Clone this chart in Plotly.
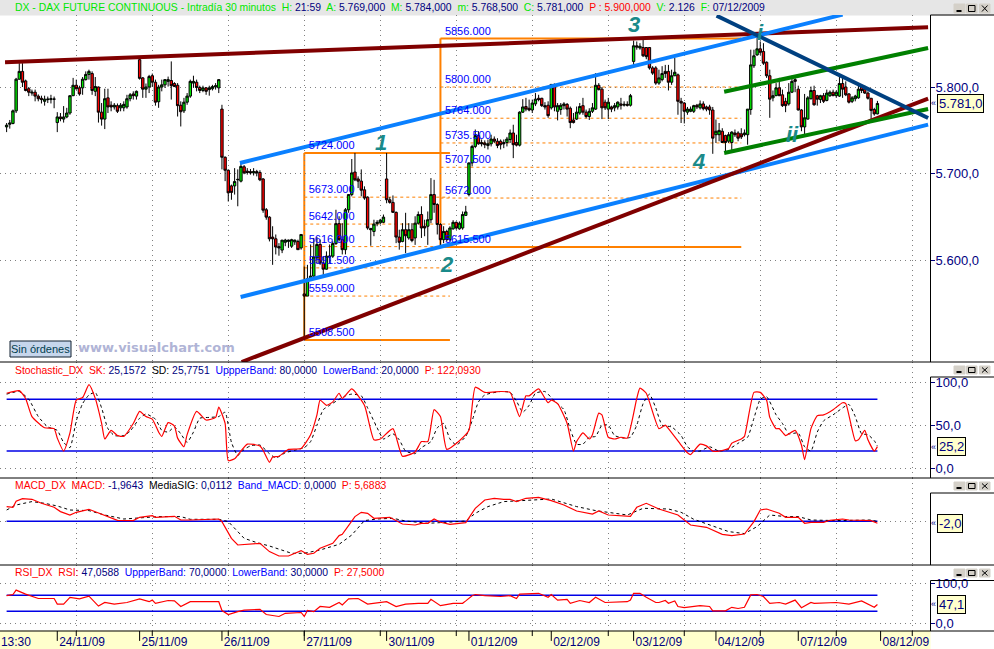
import plotly.graph_objects as go
from plotly.subplots import make_subplots

# bar numbers run along the x axis, one bar = 30 minutes
bars = list(range(2, 278))

opens = [
    5754, 5757, 5758, 5772.5, 5809, 5818, 5807, 5798, 5793, 5794,
    5789.5, 5787, 5783.5, 5785.5, 5785.5, 5786, 5759, 5765.5, 5763, 5765.5,
    5770, 5790, 5802, 5799, 5799, 5808.5, 5814.5, 5815.5, 5795, 5800,
    5771, 5763, 5787.5, 5779, 5777, 5778.5, 5776, 5776, 5777, 5786.5,
    5792, 5789.5, 5831.5, 5810.5, 5797.5, 5800, 5813, 5805.5, 5783, 5800,
    5802.5, 5806.5, 5807.5, 5804, 5802, 5779, 5772.5, 5782.5, 5789.5, 5804.5,
    5805.5, 5799.5, 5796, 5799, 5797, 5798, 5800, 5799, 5774.5, 5719,
    5704, 5686, 5686, 5693, 5691.5, 5708, 5703, 5702.5, 5701, 5702.5,
    5701.5, 5694, 5658.5, 5650, 5627, 5625, 5616, 5612, 5621, 5622,
    5616.5, 5621.5, 5622, 5614.5, 5561.5, 5559, 5579, 5582, 5603, 5618.5,
    5597, 5590, 5604, 5605, 5619.5, 5642.5, 5624, 5612.5, 5658.5, 5676,
    5702, 5694, 5691.5, 5681.5, 5673, 5637, 5633.5, 5642.5, 5643.5, 5644,
    5694, 5670, 5667, 5655.5, 5627, 5622, 5635.5, 5626, 5635.5, 5626,
    5643, 5653, 5639.5, 5639.5, 5647, 5676, 5664.5, 5641.5, 5624, 5633.5,
    5624, 5636.5, 5644, 5636.5, 5637.5, 5652, 5676, 5712.5, 5731.5, 5744,
    5736, 5735.5, 5732.5, 5734.5, 5740, 5737.5, 5737.5, 5736, 5736, 5739.5,
    5747, 5736, 5733, 5771, 5777.5, 5775.5, 5773.5, 5780.5, 5787, 5787,
    5778.5, 5779, 5776, 5803, 5772, 5774, 5778.5, 5780, 5775.5, 5762,
    5763, 5770, 5778.5, 5771, 5766, 5772, 5774.5, 5802, 5797.5, 5782.5,
    5774.5, 5777, 5776, 5777, 5780.5, 5779, 5780, 5779, 5829.5, 5847.5,
    5845, 5845.5, 5845.5, 5845.5, 5822, 5822, 5804.5, 5808.5, 5818, 5818,
    5805.5, 5813, 5814, 5783.5, 5781.5, 5771, 5772, 5772, 5779, 5776,
    5780.5, 5777, 5777, 5773.5, 5745, 5745, 5749, 5744, 5737.5, 5736,
    5747, 5747, 5746, 5745, 5745, 5774, 5824.5, 5837, 5844, 5841,
    5828.5, 5813, 5787.5, 5790, 5799, 5791, 5783.5, 5780.5, 5794, 5808.5,
    5797.5, 5773.5, 5754, 5763, 5786.5, 5796, 5790, 5785.5, 5790, 5784.5,
    5790, 5794, 5790, 5789.5, 5804, 5800, 5792, 5783.5, 5786.5, 5787.5,
    5800, 5797.5, 5793, 5787, 5774, 5769,
]
highs = [
    5758.5, 5762, 5774, 5810.5, 5827.5, 5827.5, 5808.5, 5800, 5797, 5797,
    5791.5, 5790, 5790, 5789, 5791, 5789, 5771, 5770, 5778, 5776,
    5790, 5810.5, 5808.5, 5801.5, 5811.5, 5818, 5820, 5818, 5811.5, 5800.5,
    5781.5, 5798, 5798, 5783.5, 5781.5, 5781, 5781.5, 5783.5, 5791, 5793,
    5795, 5796, 5835.5, 5811.5, 5804, 5814, 5815.5, 5808.5, 5802.5, 5808.5,
    5809, 5812, 5829.5, 5805.5, 5804.5, 5783.5, 5787.5, 5793, 5808.5, 5813,
    5808.5, 5801.5, 5801.5, 5800, 5801.5, 5802.5, 5804.5, 5809, 5779.5, 5720,
    5705, 5687.5, 5706.5, 5705, 5712.5, 5710, 5706.5, 5705.5, 5706.5, 5704.5,
    5704, 5695, 5660.5, 5651, 5639.5, 5630, 5620, 5623.5, 5625, 5624,
    5625, 5624, 5624, 5630, 5593, 5595, 5618.5, 5626, 5627, 5624,
    5605, 5610.5, 5618.5, 5622, 5658.5, 5651, 5643, 5660.5, 5676, 5717,
    5724, 5697, 5705, 5685.5, 5674, 5637.5, 5647, 5646.5, 5648, 5653,
    5724, 5673, 5675, 5656.5, 5635.5, 5643, 5655, 5643, 5643, 5651,
    5656.5, 5662.5, 5647, 5656.5, 5695, 5693, 5666, 5643, 5639.5, 5635.5,
    5639.5, 5646.5, 5645, 5645, 5656.5, 5663, 5713, 5733.5, 5751, 5749,
    5739.5, 5738.5, 5739.5, 5745, 5743, 5741, 5739.5, 5739.5, 5742.5, 5751,
    5756.5, 5745, 5772, 5786, 5787.5, 5785.5, 5785.5, 5793, 5791, 5787.5,
    5782.5, 5783.5, 5803, 5804, 5781.5, 5781.5, 5782.5, 5781.5, 5777.5, 5770,
    5777.5, 5781.5, 5787.5, 5774, 5775.5, 5781.5, 5816, 5804.5, 5800, 5785.5,
    5787.5, 5778.5, 5781.5, 5783.5, 5787.5, 5783.5, 5783.5, 5792, 5853.5, 5852.5,
    5850.5, 5856.5, 5845.5, 5846, 5824, 5824, 5820, 5824, 5825.5, 5825.5,
    5820, 5833.5, 5815.5, 5787.5, 5782.5, 5777, 5777.5, 5779.5, 5780.5, 5784.5,
    5783.5, 5778.5, 5779.5, 5777, 5762.5, 5758.5, 5752.5, 5745, 5748, 5749,
    5751, 5749, 5752.5, 5751, 5774.5, 5843, 5843, 5862, 5852.5, 5850.5,
    5829.5, 5820, 5796, 5804.5, 5810.5, 5797, 5787.5, 5804.5, 5813, 5811.5,
    5801.5, 5774.5, 5792, 5789.5, 5800.5, 5801.5, 5791, 5791, 5793, 5797,
    5796, 5797, 5796, 5815.5, 5810.5, 5806.5, 5793, 5789.5, 5791, 5804.5,
    5802.5, 5801.5, 5795, 5787, 5776, 5784,
]
lows = [
    5748, 5752, 5757, 5770, 5808.5, 5800, 5795, 5789.5, 5790, 5783.5,
    5783.5, 5781, 5778.5, 5781.5, 5781, 5775.5, 5748, 5760.5, 5759, 5764,
    5768, 5789.5, 5797, 5790, 5791, 5807.5, 5808.5, 5791, 5789.5, 5759,
    5755.5, 5751.5, 5770, 5772, 5774, 5770, 5772, 5772, 5775, 5783.5,
    5785.5, 5785.5, 5808.5, 5787.5, 5787.5, 5793, 5800, 5778.5, 5776, 5795,
    5799, 5800.5, 5785.5, 5800, 5766, 5754.5, 5770, 5779.5, 5787.5, 5799,
    5795, 5793, 5794, 5791, 5790, 5796, 5797, 5793, 5705, 5691.5,
    5668, 5670, 5676, 5662.5, 5690, 5699.5, 5699, 5699, 5698, 5697,
    5691.5, 5655, 5647, 5622, 5595, 5607, 5605.5, 5608.5, 5616.5, 5614.5,
    5614.5, 5618, 5612.5, 5612.5, 5510.5, 5559, 5578, 5581, 5597, 5595,
    5582, 5589.5, 5597, 5603, 5618, 5622, 5607, 5607, 5655, 5674,
    5691.5, 5683.5, 5674, 5670, 5635.5, 5617, 5628, 5639.5, 5641.5, 5643,
    5666, 5665.5, 5655, 5620, 5612.5, 5621, 5608.5, 5624, 5621, 5618,
    5641.5, 5626, 5628, 5618, 5643, 5655, 5630, 5614.5, 5620, 5622,
    5622, 5635.5, 5635.5, 5635.5, 5635.5, 5651.5, 5674, 5708.5, 5729.5, 5733.5,
    5731.5, 5729.5, 5728, 5731.5, 5735.5, 5729.5, 5728, 5729.5, 5731.5, 5735.5,
    5718, 5731.5, 5731.5, 5770, 5772, 5772, 5770, 5778, 5783.5, 5777,
    5774, 5764.5, 5774, 5772, 5761.5, 5768, 5774, 5766, 5752.5, 5758,
    5762, 5768, 5768, 5764, 5762, 5770, 5773.5, 5796, 5763, 5773.5,
    5763, 5771, 5772, 5774, 5774, 5777.5, 5777.5, 5777.5, 5824.5, 5843,
    5843, 5834.5, 5832, 5820, 5814, 5802.5, 5802.5, 5806.5, 5810.5, 5796,
    5802.5, 5812.5, 5768, 5758.5, 5758, 5768, 5771, 5770, 5774.5, 5774,
    5773, 5772, 5768, 5723, 5735.5, 5737.5, 5735.5, 5724.5, 5735.5, 5726,
    5742.5, 5737.5, 5740, 5743, 5733.5, 5768, 5822, 5836, 5837, 5825.5,
    5810.5, 5764.5, 5783.5, 5789.5, 5789.5, 5777, 5771, 5778.5, 5793, 5794,
    5773, 5749, 5745, 5762.5, 5785.5, 5778.5, 5778.5, 5781.5, 5781.5, 5783.5,
    5788.5, 5789.5, 5787.5, 5788.5, 5787.5, 5789.5, 5781, 5781.5, 5783.5, 5786.5,
    5793, 5792, 5785.5, 5761.5, 5767, 5768.5,
]
closes = [
    5756, 5758.5, 5772.5, 5809, 5818, 5805.5, 5796, 5794, 5794, 5789.5,
    5786.5, 5785.5, 5786, 5786, 5786.5, 5786, 5765.5, 5763.5, 5765.5, 5770,
    5790, 5802, 5798, 5792, 5809, 5814.5, 5818, 5796, 5800.5, 5771,
    5763, 5786.5, 5777, 5777, 5779, 5772, 5779, 5780, 5786.5, 5791,
    5790, 5795, 5810, 5797.5, 5800, 5812, 5805.5, 5782.5, 5800, 5802.5,
    5808.5, 5808.5, 5801.5, 5800.5, 5778.5, 5771.5, 5782.5, 5789.5, 5806.5, 5806.5,
    5799.5, 5796, 5799, 5795, 5799, 5800.5, 5801.5, 5808.5, 5719, 5704,
    5678, 5678.5, 5691, 5693.5, 5708.5, 5701, 5701.5, 5701, 5702.5, 5701,
    5693, 5658, 5650, 5625, 5625, 5615.5, 5614.5, 5623.5, 5623.5, 5623.5,
    5624, 5623.5, 5612.5, 5630, 5559, 5579, 5582, 5604, 5618.5, 5597,
    5590, 5605, 5605, 5619.5, 5642.5, 5624, 5612.5, 5658.5, 5676, 5701,
    5693, 5691.5, 5681, 5672, 5637.5, 5635.5, 5642, 5644, 5646.5, 5650,
    5670, 5667, 5655.5, 5627, 5621, 5635.5, 5628.5, 5635.5, 5623, 5643,
    5653, 5637.5, 5637.5, 5647, 5676, 5664.5, 5641.5, 5624, 5633.5, 5624,
    5637.5, 5644, 5637.5, 5643, 5653, 5656, 5712.5, 5731.5, 5744, 5734.5,
    5734.5, 5733.5, 5734.5, 5740, 5737.5, 5732.5, 5733.5, 5734.5, 5740, 5747,
    5733.5, 5733, 5771, 5777, 5774.5, 5773.5, 5781.5, 5786, 5785.5, 5778.5,
    5777, 5767, 5803, 5777, 5778.5, 5779, 5780.5, 5774.5, 5759, 5759,
    5771, 5777.5, 5771, 5766, 5772, 5776, 5802, 5797, 5776, 5776,
    5782.5, 5774.5, 5778.5, 5782.5, 5779, 5780, 5779, 5790, 5847.5, 5846,
    5847, 5836, 5835, 5822, 5816, 5804.5, 5810.5, 5815.5, 5815.5, 5805.5,
    5813, 5817, 5783.5, 5781.5, 5772, 5774.5, 5774.5, 5778.5, 5777, 5780.5,
    5775, 5774.5, 5773.5, 5741, 5749, 5750, 5736, 5736, 5745, 5748,
    5745, 5741, 5742.5, 5747, 5774.5, 5825.5, 5836, 5844, 5840, 5827.5,
    5813, 5786, 5790, 5799, 5790, 5778.5, 5778.5, 5794, 5806.5, 5806.5,
    5773.5, 5754, 5764.5, 5787.5, 5796, 5779.5, 5786, 5790, 5783.5, 5793,
    5794, 5790, 5794, 5804, 5797.5, 5791, 5782.5, 5787.5, 5789.5, 5797.5,
    5796, 5793, 5787, 5773, 5769, 5781,
]

sk_bars = [
    2, 6, 8, 10, 14, 17, 18, 20, 22, 24, 26, 28, 30, 32, 33, 35, 37, 39, 42, 44,
    46, 48, 50, 51, 53, 55, 56, 58, 59, 62, 65, 68, 69, 71, 72, 74, 78, 82, 83, 85,
    86, 88, 91, 95, 98, 100, 101, 103, 105, 107, 108, 111, 115, 118, 120, 124, 127, 131, 133, 135,
    137, 139, 141, 145, 148, 150, 153, 158, 161, 164, 166, 167, 170, 173, 174, 176, 179, 181, 182, 184,
    186, 187, 189, 190, 192, 194, 196, 198, 201, 202, 204, 208, 210, 211, 215, 217, 218, 221, 223, 225,
    227, 230, 231, 234, 235, 238, 240, 242, 243, 245, 246, 248, 251, 253, 254, 256, 258, 260, 263, 266,
    267, 270, 271, 273, 274, 276, 277,
]
sk_values = [
    87, 90, 81, 60, 47, 46, 35, 20, 41, 79, 82, 97, 81, 52, 34, 44, 38, 37, 52, 66,
    60, 57, 42, 37, 53, 49, 35, 25, 39, 66, 56, 59, 71, 52, 9, 11, 28, 26, 21, 7,
    13, 14, 22, 23, 39, 62, 79, 73, 77, 87, 81, 92, 73, 33, 34, 46, 14, 19, 31, 31,
    68, 60, 22, 32, 44, 94, 88, 89, 88, 60, 84, 84, 92, 76, 79, 75, 52, 20, 31, 41,
    34, 39, 64, 62, 36, 34, 36, 35, 81, 93, 87, 46, 50, 46, 27, 18, 16, 28, 26, 20,
    20, 23, 29, 34, 37, 88, 88, 79, 59, 46, 46, 38, 44, 27, 10, 46, 61, 62, 68, 76,
    75, 32, 33, 44, 33, 20, 25.2,
]
sd_bars = [
    2, 6, 9, 12, 15, 18, 20, 22, 24, 26, 28, 30, 32, 34, 36, 39, 41, 44, 46, 49,
    51, 53, 55, 57, 59, 61, 63, 66, 69, 71, 73, 75, 77, 79, 82, 85, 87, 90, 93, 96,
    98, 100, 102, 104, 107, 109, 111, 114, 116, 119, 121, 124, 126, 128, 131, 133, 136, 138, 140, 142,
    144, 147, 149, 151, 153, 158, 161, 163, 165, 167, 169, 172, 175, 178, 180, 182, 184, 186, 188, 190,
    192, 194, 197, 199, 201, 203, 205, 207, 209, 212, 215, 217, 219, 221, 224, 227, 230, 233, 236, 238,
    240, 242, 245, 247, 249, 252, 254, 256, 258, 260, 263, 266, 268, 270, 272, 274, 276, 277,
]
sd_values = [
    86, 89, 80, 60, 48, 44, 30, 24, 55, 75, 85, 88, 70, 46, 38, 38, 43, 58, 63, 57,
    44, 42, 48, 40, 30, 42, 58, 59, 60, 65, 30, 15, 22, 26, 27, 17, 12, 18, 21, 24,
    31, 50, 68, 73, 80, 84, 86, 84, 70, 47, 34, 40, 33, 20, 17, 24, 31, 47, 52, 34,
    27, 37, 55, 77, 85, 89, 88, 78, 65, 73, 87, 89, 78, 68, 45, 28, 28, 36, 37, 50,
    50, 38, 35, 36, 50, 75, 86, 70, 50, 48, 38, 25, 20, 20, 25, 20, 22, 29, 36, 58,
    80, 83, 62, 52, 40, 41, 25, 20, 42, 55, 62, 70, 74, 60, 40, 39, 32, 25.8,
]

macd_bars = [
    2, 4, 5, 7, 10, 13, 17, 19, 22, 24, 28, 32, 34, 37, 42, 44, 48, 49, 55, 57,
    60, 69, 70, 73, 75, 82, 85, 88, 91, 93, 95, 97, 99, 101, 105, 107, 108, 112, 114, 116,
    118, 123, 127, 131, 133, 135, 137, 139, 142, 147, 150, 153, 156, 159, 161, 163, 166, 170, 174, 178,
    182, 187, 189, 192, 199, 201, 204, 208, 214, 218, 223, 228, 231, 235, 238, 240, 242, 246, 248, 252,
    254, 256, 260, 262, 266, 268, 275, 277,
]
macd_values = [
    14.7, 14, 20, 22.7, 22, 18, 14, 9.7, 6.3, 9, 12, 7, 4, 1, 0.7, 4, 5.7, 4, 5, 1.3,
    1.3, 2.3, -0.3, -17, -23.7, -22, -30.3, -34.7, -34.7, -32, -29.3, -33, -32, -27, -22, -14.3, -13, 4.7, 9, 8,
    3, 4, -2.7, -3.7, -2, -2, 2.3, -1, -3, -1.3, 13, 21.3, 23, 22, 22, 19.7, 23, 24, 20.7, 16.3,
    10.3, 7.3, 10.3, 6.3, 5, 14, 18, 12.3, 6.3, -3.7, -6, -13, -14.3, -12.7, -0.3, 11.3, 12.3, 8, 4, 4,
    -2, -1, -1, 1, 2.3, 1.3, 0.7, -2,
]
signal_bars = [
    2, 5, 10, 14, 18, 22, 28, 33, 39, 45, 50, 57, 60, 69, 72, 75, 77, 81, 85, 92,
    96, 101, 107, 111, 115, 119, 124, 128, 135, 141, 147, 150, 154, 159, 167, 174, 182, 188, 198, 203,
    211, 215, 219, 223, 230, 235, 239, 243, 248, 252, 256, 264, 275, 277,
]
signal_values = [
    11.3, 16.3, 19.7, 18, 15.3, 11.3, 10.7, 6.3, 2.3, 4, 4.7, 4.7, 2, 2, -0.3, -10.3, -17, -21.3, -24.7, -32,
    -32, -28.7, -23, -13.7, 0.7, 2.3, 3, 0.3, -2, -1, 0.3, 8, 14.7, 19.7, 21.3, 22.3, 14.7, 10.7, 6.3, 13,
    12.3, 9, 2, -2.7, -10.3, -12.3, -5.3, 6.3, 4.7, 4.7, 1.3, 0.7, 1.3, -0.3,
]

rsi_bars = [
    2, 4, 5, 8, 12, 17, 18, 20, 22, 25, 28, 31, 33, 36, 40, 44, 47, 48, 49, 53,
    55, 57, 60, 69, 70, 72, 75, 77, 82, 84, 88, 90, 95, 96, 97, 99, 101, 104, 107, 108,
    110, 113, 116, 122, 125, 128, 132, 135, 136, 139, 143, 146, 147, 149, 150, 153, 158, 161, 163, 164,
    170, 173, 174, 176, 179, 180, 183, 186, 188, 191, 198, 199, 200, 202, 204, 207, 208, 210, 211, 213,
    214, 216, 221, 224, 225, 228, 229, 231, 233, 235, 237, 239, 241, 243, 246, 248, 251, 253, 256, 257,
    264, 268, 272, 276, 277,
]
rsi_values = [
    69, 72, 83, 73, 62, 62, 48, 48, 65, 61, 68, 43, 52, 48, 52, 61, 54, 58, 50, 57,
    56, 42, 54, 54, 32, 22, 29, 33, 35, 22, 17, 25, 27, 17, 32, 29, 42, 40, 52, 46,
    61, 62, 48, 54, 42, 48, 50, 50, 60, 44, 50, 50, 56, 69, 72, 69, 67, 69, 62, 73,
    75, 65, 72, 58, 60, 50, 57, 52, 65, 52, 54, 58, 75, 75, 65, 52, 52, 57, 50, 56,
    42, 39, 44, 42, 31, 32, 31, 40, 37, 40, 71, 72, 67, 50, 52, 48, 58, 39, 52, 50,
    52, 48, 56, 40, 47.1,
]

stoch_bands = [80, 20]
macd_band = [0]
rsi_bands = [70, 30]
band_bars = [2, 277]

# fibonacci boxes: first/last bar and levels
fib1_bars = [96, 142]
fib1_levels = [5724, 5673, 5642, 5616, 5591.5, 5559, 5508.5]
fib1_labels = ["5724.000", "5673.000", "5642.000", "5616.000", "5591.500", "5559.000", "5508.500"]
fib2_bars = [139, 234]
fib2_levels = [5856, 5800, 5764, 5735.5, 5707.5, 5672, 5615.5]
fib2_labels = ["5856.000", "5800.000", "5764.000", "5735.500", "5707.500", "5672.000", "5615.500"]

# trend lines: start bar, start price, end bar, end price
top_resistance = [1.5, 5828.5, 293, 5868.8]
upper_channel = [75.7, 5712.4, 266, 5883.4]
lower_channel = [75.9, 5558, 293, 5756.6]
lower_support = [76.2, 5483, 293, 5786.5]
green_upper = [228.6, 5794.6, 293, 5845]
green_lower = [228.6, 5724, 293, 5774.6]
navy_down = [226.2, 5882.2, 293, 5764.3]

wave_labels = ["1", "2", "3", "4", "i", "ii"]
wave_bars = [120.2, 141, 200.1, 220.6, 240.2, 250.3]
wave_prices = [5736.6, 5595, 5871.5, 5714.7, 5863.4, 5745.8]

day_ticks = [18, 44, 70, 96, 122, 148, 174, 200, 226, 252, 278]
day_labels = ["24/11/09", "25/11/09", "26/11/09", "27/11/09", "30/11/09", "01/12/09",
              "02/12/09", "03/12/09", "04/12/09", "07/12/09", "08/12/09"]
grid_ticks = [24, 48, 72, 96, 120, 144, 168, 192, 216, 240, 264, 288]

NAVY = "#000080"
BLUE = "#0000e6"
RED = "#ff0000"
LIME = "#00e600"
ORANGE = "#ff8000"
FONT = "Liberation Sans"

fig = make_subplots(rows=5, cols=1, shared_xaxes=True, vertical_spacing=0,
                    row_heights=[347, 116, 87, 66, 18])


def px_x(px):
    return px / 930


def px_y(py):
    return (649 - py) / 634


def chrome_line(x0, y0, x1, y1, color="black", width=1):
    fig.add_shape(type="line", xref="paper", yref="paper", x0=px_x(x0), x1=px_x(x1),
                  y0=px_y(y0), y1=px_y(y1), line=dict(color=color, width=width))


def chrome_rect(x0, y0, x1, y1, fill, border=None, layer="above"):
    fig.add_shape(type="rect", xref="paper", yref="paper", x0=px_x(x0), x1=px_x(x1),
                  y0=px_y(y0), y1=px_y(y1), fillcolor=fill, layer=layer,
                  line=dict(color=border or fill, width=1))


def header_text(html, py, x=13, size=10.4):
    fig.add_annotation(xref="paper", yref="paper", x=px_x(x), y=px_y(py), text=html,
                       showarrow=False, xanchor="left", yanchor="middle",
                       font=dict(family=FONT, size=size, color=NAVY))


def colored(color, text):
    return f'<span style="color:{color}">{text}</span>'


def trend(values, color, width=4):
    fig.add_trace(go.Scatter(x=[values[0], values[2]], y=[values[1], values[3]], mode="lines",
                             line=dict(color=color, width=width)), row=1, col=1)


# fibonacci boxes sit under the candles
for fib_bars, levels in [(fib1_bars, fib1_levels), (fib2_bars, fib2_levels)]:
    fig.add_shape(type="line", x0=fib_bars[0], x1=fib_bars[0], y0=levels[0], y1=levels[-1],
                  xref="x", yref="y", layer="below", line=dict(color=ORANGE, width=2))
    for n, level in enumerate(levels):
        solid = n in (0, len(levels) - 1)
        fig.add_shape(type="line", x0=fib_bars[0], x1=fib_bars[1], y0=level, y1=level,
                      xref="x", yref="y", layer="below",
                      line=dict(color=ORANGE, width=2 if solid else 1, dash="solid" if solid else "3px,3px"))

fig.add_trace(go.Candlestick(
    x=bars, open=opens, high=highs, low=lows, close=closes, whiskerwidth=0,
    increasing=dict(line=dict(color="black", width=1), fillcolor=LIME),
    decreasing=dict(line=dict(color="black", width=1), fillcolor=RED),
), row=1, col=1)

trend(top_resistance, "#800000")
trend(upper_channel, "#0a80ff")
trend(lower_channel, "#0a80ff")
trend(lower_support, "#800000")
trend(green_upper, "#008000")
trend(green_lower, "#008000")
trend(navy_down, "#004080")

for fib_bars, levels, labels in [(fib1_bars, fib1_levels, fib1_labels), (fib2_bars, fib2_levels, fib2_labels)]:
    fig.add_trace(go.Scatter(x=[fib_bars[0] + 1.4] * len(levels), y=[level + 1.2 for level in levels],
                             text=labels, mode="text", textposition="top right",
                             textfont=dict(family=FONT, size=11, color="#0000ff")), row=1, col=1)

for label, bar, price in zip(wave_labels, wave_bars, wave_prices):
    fig.add_annotation(x=bar, y=price, xref="x", yref="y", text=f"<b><i>{label}</i></b>", showarrow=False,
                       font=dict(family=FONT, size=22, color="#1a8a8a"))

# stochastic
band_line = dict(color=BLUE, width=1.5)
for band in stoch_bands:
    fig.add_trace(go.Scatter(x=band_bars, y=[band, band], mode="lines", line=band_line), row=2, col=1)
fig.add_trace(go.Scatter(x=sd_bars, y=sd_values, mode="lines",
                         line=dict(color="black", width=1, dash="3px,3px", shape="spline", smoothing=0.5)), row=2, col=1)
fig.add_trace(go.Scatter(x=sk_bars, y=sk_values, mode="lines",
                         line=dict(color=RED, width=1.2, shape="spline", smoothing=0.5)), row=2, col=1)

# macd
fig.add_trace(go.Scatter(x=band_bars, y=macd_band * 2, mode="lines", line=band_line), row=3, col=1)
fig.add_trace(go.Scatter(x=signal_bars, y=signal_values, mode="lines",
                         line=dict(color="black", width=1, dash="3px,3px")), row=3, col=1)
fig.add_trace(go.Scatter(x=macd_bars, y=macd_values, mode="lines", line=dict(color=RED, width=1.2)), row=3, col=1)

# rsi
for band in rsi_bands:
    fig.add_trace(go.Scatter(x=band_bars, y=[band, band], mode="lines", line=band_line), row=4, col=1)
fig.add_trace(go.Scatter(x=rsi_bars, y=rsi_values, mode="lines", line=dict(color=RED, width=1.2)), row=4, col=1)

# date strip
day_x, day_y = [], []
for tick in day_ticks:
    day_x += [tick, tick, None]
    day_y += [1, 0.45, None]
for tick in grid_ticks:
    day_x += [tick, tick, None]
    day_y += [1, 0.72, None]
fig.add_trace(go.Scatter(x=day_x, y=day_y, mode="lines", line=dict(color="black", width=1)), row=5, col=1)
fig.add_trace(go.Scatter(x=[0.2] + [tick + 0.6 for tick in day_ticks], y=[0.33] * (len(day_ticks) + 1),
                         text=["13:30"] + day_labels, mode="text", textposition="middle right", cliponaxis=False,
                         textfont=dict(family=FONT, size=12, color=NAVY)), row=5, col=1)

grid = dict(showgrid=True, gridcolor="#808080", griddash="1px,4px", gridwidth=1, zeroline=False)
for row in range(1, 5):
    fig.update_xaxes(grid, tick0=0, dtick=24, ticks="", showticklabels=False, row=row, col=1)
fig.update_xaxes(showgrid=False, zeroline=False, ticks="", showticklabels=False, row=5, col=1)
fig.update_xaxes(range=[-0.09, 293.6], rangeslider_visible=False)

tick_style = dict(side="right", ticks="outside", ticklen=4, tickcolor=NAVY, ticklabelstandoff=-2,
                  tickfont=dict(family=FONT, size=13, color=NAVY))
fig.update_yaxes(grid, **tick_style, range=[5483, 5883], tickvals=[5600, 5700, 5800],
                 ticktext=["5.600,0", "5.700,0", "5.800,0"], row=1, col=1)
fig.update_yaxes(grid, **tick_style, range=[-11.2, 123.2], tickvals=[0, 50, 100],
                 ticktext=["0,0", "50,0", "100,0"], row=2, col=1)
fig.update_yaxes(grid, side="right", ticks="", range=[-43.7, 43.3], tickvals=[0], ticktext=[""], row=3, col=1)
fig.update_yaxes(grid, **tick_style, range=[-19.3, 145.8], tickvals=[0, 100],
                 ticktext=["0,0", "100,0"], row=4, col=1)
fig.update_yaxes(showgrid=False, zeroline=False, range=[0, 1], ticks="", showticklabels=False, row=5, col=1)

# window frame, title bars and panel borders
chrome_rect(0, 0, 994, 15, "#e6e6e6", layer="below")
chrome_rect(0, 631, 930, 649, "#ffffcc", layer="below")
for py in (362, 478, 565, 631):
    chrome_line(0, py, 994, py)
for top, bottom in ((15, 362), (377, 478), (493, 565), (580.5, 631)):
    chrome_line(930.5, top, 930.5, bottom)
    chrome_line(930.5, top, 994, top)

for top, bottom in ((4, 13), (366, 374), (482, 490), (569, 577)):
    chrome_rect(954, top, 965, bottom, "#d4d0c8")
    chrome_rect(966.5, top, 977, bottom, "#d4d0c8")
    chrome_rect(979.5, top, 990, bottom, "#d4d0c8")
    chrome_line(956.5, bottom - 2, 961.5, bottom - 2, width=2)
    fig.add_shape(type="rect", xref="paper", yref="paper", x0=px_x(968.5), x1=px_x(975),
                  y0=px_y(top + 1.5), y1=px_y(bottom - 1.5), line=dict(color="black", width=1))
    chrome_line(982, top + 1.5, 987.5, bottom - 1.5)
    chrome_line(982, bottom - 1.5, 987.5, top + 1.5)

# header lines
header_text(
    colored("#00e600", "DX - DAX FUTURE CONTINUOUS - Intradía 30 minutos  H:") + " 21:59  "
    + colored("#00e600", "A:") + " 5.769,000  " + colored("#00e600", "M:") + " 5.784,000  "
    + colored("#00e600", "m:") + " 5.768,500  " + colored("#00e600", "C:") + " 5.781,000  "
    + colored(RED, "P : 5.900,000") + "  " + colored("#00e600", "V:") + " 2.126  "
    + colored("#00e600", "F:") + " 07/12/2009", 7.5)
header_text(
    colored(RED, "Stochastic_DX  SK:") + " 25,1572  " + colored("black", "SD:") + " 25,7751  "
    + colored("#0000ff", "UppperBand:") + " 80,0000  " + colored("#0000ff", "LowerBand:") + " 20,0000  "
    + colored(RED, "P: 122,0930"), 370)
header_text(
    colored(RED, "MACD_DX  MACD:") + " -1,9643  " + colored("black", "MediaSIG:") + " 0,0112  "
    + colored("#0000ff", "Band_MACD:") + " 0,0000  " + colored(RED, "P: 5,6883"), 485.5)
header_text(
    colored(RED, "RSI_DX  RSI:") + " 47,0588  " + colored("#0000ff", "UppperBand:") + " 70,0000  "
    + colored("#0000ff", "LowerBand:") + " 30,0000  " + colored(RED, "P: 27,5000"), 572.5)

# last value boxes
for text, value, axis in [("5.781,0", 5781, "y"), ("25,2", 25.2, "y2"), ("-2,0", -2, "y3"), ("47,1", 47.1, "y4")]:
    fig.add_annotation(xref="paper", yref=axis, x=px_x(936.5), y=value, text=text, showarrow=False,
                       xanchor="left", bgcolor="#ffffcc", bordercolor="black", borderwidth=1, borderpad=1,
                       font=dict(family=FONT, size=13, color=NAVY))
    fig.add_annotation(xref="paper", yref=axis, x=px_x(933.5), y=value, text="«", showarrow=False,
                       xanchor="center", font=dict(family=FONT, size=9, color=NAVY))

chrome_rect(10, 341, 71, 357, "#c6d6ec", border="#102030")
fig.add_annotation(xref="paper", yref="paper", x=px_x(40.5), y=px_y(349), text="Sin órdenes", showarrow=False,
                   xanchor="center", font=dict(family=FONT, size=11, color="#004050"))
fig.add_annotation(xref="paper", yref="paper", x=px_x(76), y=px_y(347), text="<b>www.visualchart.com</b>",
                   showarrow=False, xanchor="left", font=dict(family="DejaVu Sans", size=13, color="#b0b4d6"))

fig.update_layout(
    width=994, height=649, margin=dict(l=0, r=64, t=15, b=0),
    paper_bgcolor="white", plot_bgcolor="white", showlegend=False, hovermode=False,
    boxgap=0.25, boxgroupgap=0,
)

fig.write_html("out.html", config={"displayModeBar": False},
               post_script="document.body.style.margin='0';document.body.style.overflow='hidden';")
